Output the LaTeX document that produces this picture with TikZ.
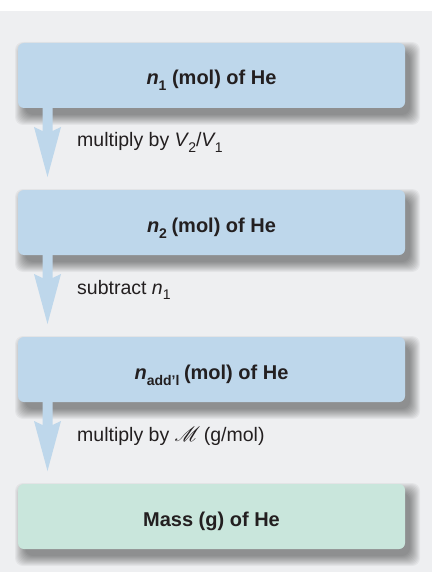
\documentclass[tikz,border=0pt]{standalone}
\usepackage{fontspec}
\setmainfont{Liberation Sans}
\usepackage{mathrsfs}
\usetikzlibrary{calc}
\pgfdeclarelayer{bg}
\pgfdeclarelayer{shad}
\pgfsetlayers{bg,shad,main}
\definecolor{panel}{HTML}{EEEFF1}
\definecolor{boxblue}{HTML}{BED7EB}
\definecolor{boxgreen}{HTML}{C9E6DC}
\definecolor{ink}{HTML}{231F20}
\newcommand\sbx[1]{\raisebox{-0.3em}{\fontsize{14}{14}\selectfont #1}}
\newcommand\flowarrow[2]{%
  \fill[arrowc] ($(#1.south west)+(24.5pt,0pt)$) -- ($(#1.south west)+(24.5pt,-23pt)$)
   -- ($(#1.south west)+(16pt,-19pt)$) -- ($(#2.north west)+(29.5pt,13pt)$)
   -- ($(#1.south west)+(43pt,-19pt)$) -- ($(#1.south west)+(34.5pt,-23pt)$)
   -- ($(#1.south west)+(34.5pt,0pt)$) -- cycle;}
\newcommand\boxshadow[1]{%
  \begin{pgfonlayer}{shad}
  \foreach \e in {9,8,...,-1}{
    \fill[black, opacity=0.045, rounded corners=8pt]
      ($(#1.north west)+(6pt-\e pt,-8pt+\e pt)$) rectangle ($(#1.south east)+(6pt+\e pt,-8pt-\e pt)$);
  }
  \end{pgfonlayer}}
\tikzset{
  stepbox/.style={rectangle, rounded corners=6pt, minimum width=387pt, minimum height=65pt,
    inner sep=0pt, outer sep=0pt, text height=19pt, text depth=0pt, text=ink,
    font=\fontsize{20}{24}\selectfont\bfseries},
  bluebox/.style={stepbox, fill=boxblue},
  greenbox/.style={stepbox, fill=boxgreen},
  lbl/.style={anchor=base west, inner sep=0pt, text=ink, font=\fontsize{19.5}{23}\selectfont},
  arrowc/.style={fill=boxblue}
}
\begin{document}
\begin{tikzpicture}[x=1pt,y=1pt]
\useasboundingbox (0,0) rectangle (432,-572);
\begin{pgfonlayer}{bg}
\fill[white] (0,0) rectangle (432,-572);
\fill[panel] (0,-11) rectangle (432,-572);
\end{pgfonlayer}
\node[bluebox] (b1) at (211.5,-75.5) {\textit{n}\sbx{1} (mol) of He};
\node[bluebox] (b2) at (211.5,-222.5) {\textit{n}\sbx{2}\kern-1pt\ (mol) of He};
\node[bluebox] (b3) at (211.5,-369.5) {\textit{n}\sbx{add’l}\kern-1pt\ (mol) of He};
\node[greenbox] (b4) at (211.5,-516.5) {Mass (g) of He};
\boxshadow{b1}
\boxshadow{b2}
\boxshadow{b3}
\boxshadow{b4}
\flowarrow{b1}{b2}
\flowarrow{b2}{b3}
\flowarrow{b3}{b4}
\node[lbl] (l1) at ($(b1.south west)+(59pt,-39pt)$) {multiply by \textit{V}\kern-1pt\sbx{2}/\textit{V}\kern-1pt\sbx{1}};
\node[lbl] (l2) at ($(b2.south west)+(59pt,-39pt)$) {subtract \textit{n}\sbx{1}};
\node[lbl] (l3) at ($(b3.south west)+(59pt,-39pt)$) {multiply by $\mathscr{M}$\kern-2pt\ (g/mol)};
\end{tikzpicture}
\end{document}
